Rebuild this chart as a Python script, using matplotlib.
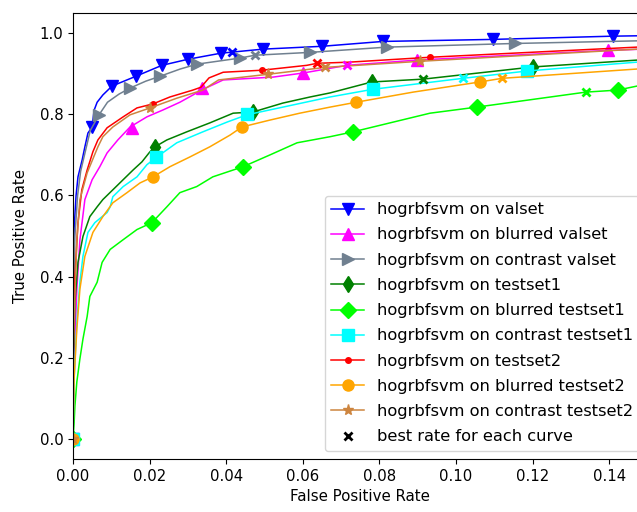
import matplotlib
matplotlib.use("Agg")
import matplotlib.pyplot as plt
from matplotlib.lines import Line2D

# ROC curves (fpr, tpr)
valset_fpr = [0, 0, 0.0003, 0.0008, 0.0013, 0.0024, 0.0031, 0.0039, 0.0050, 0.0055, 0.0063, 0.0078,
              0.0102, 0.0164, 0.0232, 0.0300, 0.0386, 0.0496, 0.0650, 0.0809, 0.1096, 0.1409, 0.155]
valset_tpr = [0, 0.35, 0.52, 0.60, 0.646, 0.688, 0.72, 0.754, 0.769, 0.81, 0.83, 0.848,
              0.870, 0.894, 0.921, 0.936, 0.951, 0.961, 0.968, 0.980, 0.985, 0.993, 0.995]
valset_mk_fpr = [0, 0.0050, 0.0102, 0.0164, 0.0232, 0.0300, 0.0386, 0.0496, 0.0650, 0.0809, 0.1096, 0.1409]
valset_mk_tpr = [0, 0.769, 0.870, 0.894, 0.921, 0.936, 0.951, 0.961, 0.968, 0.980, 0.985, 0.993]

bval_fpr = [0, 0.0005, 0.0010, 0.0018, 0.0031, 0.0050, 0.0070, 0.0089, 0.0117, 0.0149, 0.0193, 0.0235,
            0.0279, 0.0340, 0.0392, 0.0522, 0.0600, 0.0715, 0.0898, 0.1397, 0.155]
bval_tpr = [0, 0.25, 0.369, 0.49, 0.59, 0.639, 0.671, 0.705, 0.737, 0.769, 0.794, 0.811,
            0.83, 0.862, 0.885, 0.892, 0.902, 0.921, 0.934, 0.958, 0.963]
bval_mk_fpr = [0, 0.0154, 0.0337, 0.0600, 0.0898, 0.1397]
bval_mk_tpr = [0, 0.767, 0.865, 0.902, 0.934, 0.958]

cval_fpr = [0, 0, 0.0005, 0.0012, 0.0020, 0.0030, 0.0045, 0.0068, 0.0090, 0.0120, 0.0149, 0.0190,
            0.0227, 0.0280, 0.0324, 0.0436, 0.0475, 0.0619, 0.0820, 0.1154, 0.155]
cval_tpr = [0, 0.30, 0.50, 0.60, 0.66, 0.70, 0.76, 0.799, 0.83, 0.85, 0.865, 0.882,
            0.894, 0.912, 0.924, 0.939, 0.946, 0.953, 0.966, 0.975, 0.983]
cval_mk_fpr = [0, 0.0068, 0.0149, 0.0227, 0.0324, 0.0436, 0.0619, 0.0820, 0.1154]
cval_mk_tpr = [0, 0.799, 0.865, 0.894, 0.924, 0.939, 0.953, 0.966, 0.975]

t1_fpr = [0, 0, 0.0005, 0.0013, 0.0026, 0.0044, 0.0063, 0.0078, 0.0104, 0.0131, 0.0157, 0.0180,
          0.0201, 0.0214, 0.0245, 0.0297, 0.0357, 0.0418, 0.0470, 0.0548, 0.0619, 0.0671, 0.0780,
          0.0914, 0.1200, 0.1473, 0.155]
t1_tpr = [0, 0.15, 0.337, 0.435, 0.499, 0.548, 0.572, 0.59, 0.614, 0.639, 0.663, 0.683,
          0.708, 0.72, 0.737, 0.757, 0.779, 0.803, 0.806, 0.828, 0.843, 0.853, 0.880,
          0.887, 0.917, 0.934, 0.937]
t1_mk_fpr = [0, 0.0214, 0.0470, 0.0780, 0.1200]
t1_mk_tpr = [0, 0.72, 0.806, 0.880, 0.917]

bt1_fpr = [0, 0.0003, 0.0005, 0.0010, 0.0018, 0.0026, 0.0037, 0.0044, 0.0063, 0.0076, 0.0097, 0.0131,
           0.0167, 0.0206, 0.0245, 0.0279, 0.0323, 0.0365, 0.0444, 0.0514, 0.0585, 0.0671, 0.0731,
           0.0932, 0.1054, 0.1339, 0.1422, 0.1473, 0.155]
bt1_tpr = [0, 0.04, 0.081, 0.14, 0.197, 0.246, 0.302, 0.351, 0.386, 0.435, 0.467, 0.491,
           0.516, 0.533, 0.572, 0.607, 0.622, 0.646, 0.671, 0.700, 0.730, 0.745, 0.757,
           0.803, 0.818, 0.855, 0.860, 0.870, 0.875]
bt1_mk_fpr = [0, 0.0206, 0.0444, 0.0731, 0.1054, 0.1422]
bt1_mk_tpr = [0, 0.533, 0.671, 0.757, 0.818, 0.860]

ct1_fpr = [0, 0.0003, 0.0010, 0.0018, 0.0026, 0.0039, 0.0057, 0.0089, 0.0097, 0.0104, 0.0131, 0.0167,
           0.0193, 0.0219, 0.0271, 0.0339, 0.0402, 0.0454, 0.0548, 0.0671, 0.0783, 0.1018, 0.1185,
           0.1473, 0.155]
ct1_tpr = [0, 0.15, 0.287, 0.386, 0.45, 0.509, 0.533, 0.558, 0.572, 0.597, 0.622, 0.646,
           0.676, 0.695, 0.730, 0.757, 0.781, 0.799, 0.818, 0.843, 0.862, 0.889, 0.907,
           0.929, 0.933]
ct1_mk_fpr = [0, 0.0216, 0.0454, 0.0783, 0.1185]
ct1_mk_tpr = [0, 0.695, 0.801, 0.862, 0.907]

t2_fpr = [0, 0, 0.0005, 0.0013, 0.0023, 0.0037, 0.0052, 0.0065, 0.0089, 0.0131, 0.0167, 0.0209,
          0.0253, 0.0313, 0.0334, 0.0355, 0.0392, 0.0493, 0.0610, 0.0637, 0.0723, 0.0932, 0.1473, 0.155]
t2_tpr = [0, 0.20, 0.40, 0.533, 0.614, 0.663, 0.708, 0.737, 0.767, 0.794, 0.816, 0.826,
          0.843, 0.86, 0.867, 0.890, 0.904, 0.909, 0.921, 0.926, 0.929, 0.941, 0.966, 0.968]
t2_mk_fpr = [0, 0.0209, 0.0493, 0.0932]
t2_mk_tpr = [0, 0.826, 0.909, 0.941]

bt2_fpr = [0, 0.0003, 0.0010, 0.0018, 0.0031, 0.0052, 0.0078, 0.0104, 0.0141, 0.0175, 0.0209, 0.0253,
           0.0305, 0.0357, 0.0410, 0.0441, 0.0514, 0.0592, 0.0671, 0.0739, 0.0888, 0.1062, 0.1120,
           0.1473, 0.155]
bt2_tpr = [0, 0.15, 0.27, 0.369, 0.45, 0.509, 0.548, 0.582, 0.607, 0.631, 0.646, 0.671,
           0.695, 0.72, 0.749, 0.769, 0.786, 0.803, 0.818, 0.830, 0.855, 0.880, 0.889,
           0.912, 0.915]
bt2_mk_fpr = [0, 0.0209, 0.0441, 0.0739, 0.1062]
bt2_mk_tpr = [0, 0.646, 0.769, 0.830, 0.880]

ct2_fpr = [0, 0, 0.0005, 0.0010, 0.0018, 0.0037, 0.0065, 0.0078, 0.0104, 0.0149, 0.0201, 0.0271,
           0.0339, 0.0380, 0.0509, 0.0658, 0.0906, 0.1473, 0.155]
ct2_tpr = [0, 0.20, 0.35, 0.49, 0.59, 0.656, 0.72, 0.745, 0.769, 0.799, 0.816, 0.84,
           0.86, 0.885, 0.899, 0.916, 0.931, 0.961, 0.963]
ct2_mk_fpr = [0, 0.0201, 0.0509, 0.0906]
ct2_mk_tpr = [0, 0.816, 0.899, 0.931]

# best operating point of every curve
best_fpr = [0.0415, 0.0715, 0.0475, 0.0914, 0.1339, 0.1018, 0.0637, 0.1120, 0.0658]
best_tpr = [0.953, 0.921, 0.946, 0.887, 0.855, 0.889, 0.926, 0.889, 0.916]

labels = ["hogrbfsvm on valset", "hogrbfsvm on blurred valset", "hogrbfsvm on contrast valset",
          "hogrbfsvm on testset1", "hogrbfsvm on blurred testset1", "hogrbfsvm on contrast testset1",
          "hogrbfsvm on testset2", "hogrbfsvm on blurred testset2", "hogrbfsvm on contrast testset2"]
colors = ["blue", "magenta", "slategray", "green", "lime", "cyan", "red", "orange", "peru"]
markers = ["v", "^", ">", "d", "D", "s", ".", "o", "*"]

curves = [
    (valset_fpr, valset_tpr, valset_mk_fpr, valset_mk_tpr),
    (bval_fpr, bval_tpr, bval_mk_fpr, bval_mk_tpr),
    (cval_fpr, cval_tpr, cval_mk_fpr, cval_mk_tpr),
    (t1_fpr, t1_tpr, t1_mk_fpr, t1_mk_tpr),
    (bt1_fpr, bt1_tpr, bt1_mk_fpr, bt1_mk_tpr),
    (ct1_fpr, ct1_tpr, ct1_mk_fpr, ct1_mk_tpr),
    (t2_fpr, t2_tpr, t2_mk_fpr, t2_mk_tpr),
    (bt2_fpr, bt2_tpr, bt2_mk_fpr, bt2_mk_tpr),
    (ct2_fpr, ct2_tpr, ct2_mk_fpr, ct2_mk_tpr),
]

MS = 8
LW = 1.1

fig = plt.figure(figsize=(6.37, 5.12), dpi=100)
# axes run past the right edge, as in the cropped reference
ax = fig.add_axes([0.1146, 0.1035, 0.902, 0.871])

handles = []
for (fx, ty, mx, my), lab, c, m in zip(curves, labels, colors, markers):
    ax.plot(fx, ty, color=c, linewidth=LW)
    ax.plot(mx, my, linestyle="none", marker=m, color=c, markersize=MS)
    handles.append(Line2D([], [], color=c, marker=m, markersize=MS, linewidth=LW, label=lab))

for bx, by, c in zip(best_fpr, best_tpr, colors):
    ax.plot(bx, by, linestyle="none", marker="x", color=c, markersize=6, markeredgewidth=2)
handles.append(Line2D([], [], color="black", marker="x", linestyle="none",
                      markersize=5.5, markeredgewidth=2, label="best rate for each curve"))

ax.set_xlim(0, 0.15)
ax.set_ylim(-0.05, 1.05)
ax.set_xticks([0.0, 0.02, 0.04, 0.06, 0.08, 0.10, 0.12, 0.14])
ax.set_yticks([0.0, 0.2, 0.4, 0.6, 0.8, 1.0])
ax.tick_params(labelsize=10.7)
ax.set_xlabel("False Positive Rate", fontsize=10.8)
ax.set_ylabel("True Positive Rate", fontsize=10.8, labelpad=8)
ax.legend(handles=handles, loc="lower right", fontsize=11.7, labelspacing=0.63)

fig.savefig("out.png", dpi=100)
